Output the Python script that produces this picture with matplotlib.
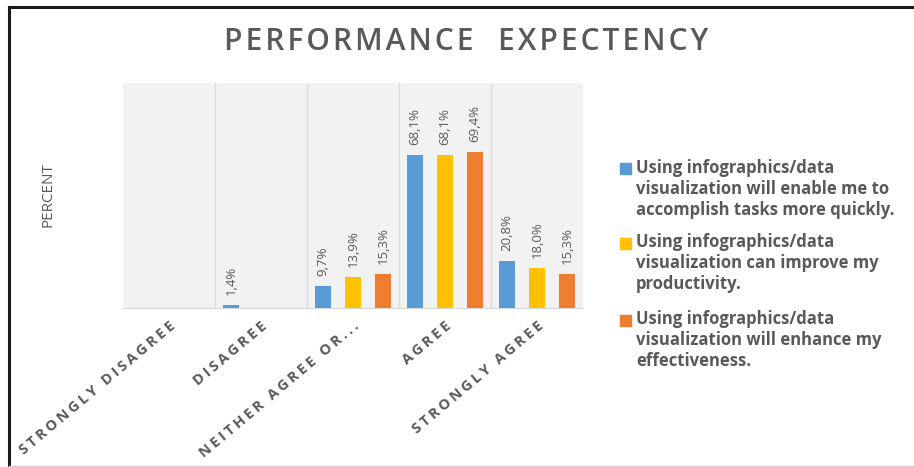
import numpy as np
import matplotlib
matplotlib.use("Agg")
import matplotlib.pyplot as plt
from matplotlib.lines import Line2D
from matplotlib.patches import Rectangle

plt.rcParams["font.family"] = ["Open Sans", "DejaVu Sans"]

TITLE = "PERFORMANCE  EXPECTENCY"
CATEGORIES = ["STRONGLY DISAGREE", "DISAGREE", "NEITHER AGREE OR...",
              "AGREE", "STRONGLY AGREE"]
SERIES = [
    "Using infographics/data\nvisualization will enable me to\naccomplish tasks more quickly.",
    "Using infographics/data\nvisualization can improve my\nproductivity.",
    "Using infographics/data\nvisualization will enhance my\neffectiveness.",
]
QUICKLY = [0.0, 1.4, 9.7, 68.1, 20.8]
PRODUCTIVITY = [0.0, 0.0, 13.9, 68.1, 18.0]
EFFECTIVENESS = [0.0, 0.0, 15.3, 69.4, 15.3]
COLORS = ["#5B9BD5", "#FFC000", "#ED7D31"]
GREY = "#595959"

W, H = 914, 467


def spaced(s, sep="\u2009"):
    # fake letter-spacing with thin (or hair) spaces
    return sep.join(s)


def pct(v):
    return f"{v:.1f}%".replace(".", ",")


fig = plt.figure(figsize=(W / 100, H / 100), dpi=100)
ax = fig.add_axes([123 / W, 1 - 308 / H, 460 / W, 225 / H])
ax.set_facecolor("#F2F2F2")

x = np.arange(len(CATEGORIES))
step, width = 0.326, 0.165
for i, (vals, color) in enumerate(zip([QUICKLY, PRODUCTIVITY, EFFECTIVENESS], COLORS)):
    pos = x + (i - 1) * step
    ax.bar(pos, vals, width, color=color, zorder=3)
    for px, v in zip(pos, vals):
        if v > 0:
            ax.annotate(pct(v), (px, v), xytext=(0, 7), textcoords="offset points",
                        rotation=90, ha="center", va="bottom",
                        fontsize=9.5, color=GREY)

ax.set_xlim(-0.5, len(CATEGORIES) - 0.5)
ax.set_ylim(0, 100)
ax.set_yticks([])
for b in x[:-1] + 0.5:
    ax.axvline(b, color="#D9D9D9", lw=1, zorder=1)
for side in ["top", "right", "left"]:
    ax.spines[side].set_visible(False)
ax.spines["bottom"].set_color("#D9D9D9")

ax.set_xticks(x)
ax.set_xticklabels([spaced(c) for c in CATEGORIES], rotation=40, ha="right",
                   va="top", rotation_mode="anchor", fontsize=10.5,
                   fontweight="bold", color=GREY)
ax.tick_params(axis="x", length=0, pad=8)

fig.text(48 / W, 1 - 195 / H, "PERCENT", rotation=90, ha="center", va="center",
         fontsize=11, color=GREY)

fig.text(466 / W, 1 - 42 / H, spaced(TITLE, "\u200a"), ha="center", va="center",
         fontsize=21.5, fontweight="semibold", color=GREY)

# legend with the swatch level with the first line of each entry
legend_tops = [169, 243, 320]
for label, color, yc in zip(SERIES, COLORS, legend_tops):
    fig.patches.append(Rectangle((620 / W, 1 - (yc + 5.5) / H), 11 / W, 11 / H,
                                 transform=fig.transFigure, color=color))
    fig.text(636 / W, 1 - (yc - 10) / H, label, ha="left", va="top",
             fontsize=12, fontweight="bold", color=GREY, linespacing=1.22)

# chart frame
fig.add_artist(Line2D([8.5 / W, 1], [1 - 6.5 / H] * 2, color="#1a1a1a", lw=2.2,
                      transform=fig.transFigure))
fig.add_artist(Line2D([8.5 / W] * 2, [0, 1 - 6.5 / H], color="#1a1a1a", lw=2.2,
                      transform=fig.transFigure))
fig.add_artist(Line2D([8.5 / W, 1], [1 - 466 / H] * 2, color="#D0D0D0", lw=1,
                      transform=fig.transFigure))

fig.savefig("out.png", dpi=100, facecolor="white")
